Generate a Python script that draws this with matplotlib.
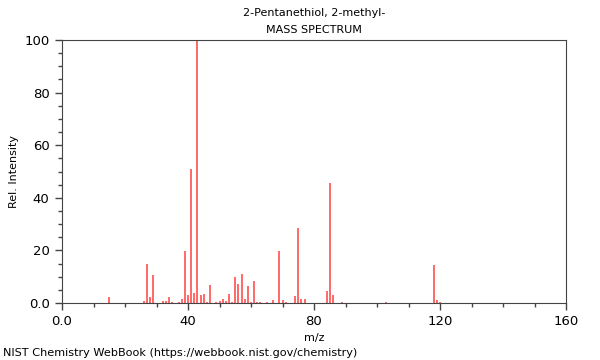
import numpy as np
import matplotlib
matplotlib.use('Agg')
import matplotlib.pyplot as plt
from matplotlib.ticker import MultipleLocator, FuncFormatter

mz = [15, 26, 27, 28, 29, 32, 33, 34, 35, 37, 38, 39, 40, 41, 42, 43, 44, 45,
      46, 47, 49, 50, 51, 52, 53, 54, 55, 56, 57, 58, 59, 60, 61, 62, 63, 65,
      67, 69, 70, 71, 74, 75, 76, 77, 84, 85, 86, 89, 103, 118, 119, 120]
intens = [2.1, 0.9, 14.9, 2.4, 10.8, 0.9, 0.9, 2.1, 0.5, 0.5, 1.6, 19.8, 3.0,
          51.0, 3.9, 100.0, 3.2, 3.6, 0.5, 6.9, 0.5, 0.9, 1.4, 0.6, 3.6, 0.5,
          9.9, 7.4, 11.0, 1.6, 6.6, 0.5, 8.2, 0.5, 0.5, 0.5, 1.0, 19.8, 1.0,
          0.5, 2.5, 28.5, 1.4, 1.4, 4.4, 45.6, 3.2, 0.5, 0.5, 14.3, 1.0, 0.5]

titulo = '2-Pentanethiol, 2-methyl-'
subtitulo = 'MASS SPECTRUM'
pie = 'NIST Chemistry WebBook (https://webbook.nist.gov/chemistry)'

fig = plt.figure(figsize=(6, 3.6), dpi=100)
ax = fig.add_axes([62/600, 1-303/360, 504/600, 263/360])

ax.vlines(mz, 0, intens, colors='#ff4040', linewidth=1.1)

ax.set_xlim(0, 160)
ax.set_ylim(0, 100)
ax.xaxis.set_major_locator(MultipleLocator(40))
ax.xaxis.set_minor_locator(MultipleLocator(10))
ax.yaxis.set_major_locator(MultipleLocator(20))
ax.yaxis.set_minor_locator(MultipleLocator(5))
fmt = FuncFormatter(lambda v, p: '0.0' if v == 0 else '%d' % v)
ax.xaxis.set_major_formatter(fmt)
ax.yaxis.set_major_formatter(fmt)
ax.tick_params(which='major', length=5, width=1, color='#444444', labelsize=9.5)
ax.tick_params(axis='y', which='major', pad=4)
ax.tick_params(which='minor', length=3, width=1, color='#444444')
for s in ax.spines.values():
    s.set_color('#444444')

ax.set_xlabel('m/z', fontsize=8)
ax.set_ylabel('Rel. Intensity', fontsize=8, labelpad=4)

fig.text(314/600, 1-13/360, titulo, ha='center', va='center', fontsize=8)
fig.text(314/600, 1-30/360, subtitulo, ha='center', va='center', fontsize=8)
fig.text(3/600, 1-353/360, pie, ha='left', va='center', fontsize=8.15)

plt.savefig('out.png', dpi=100)
